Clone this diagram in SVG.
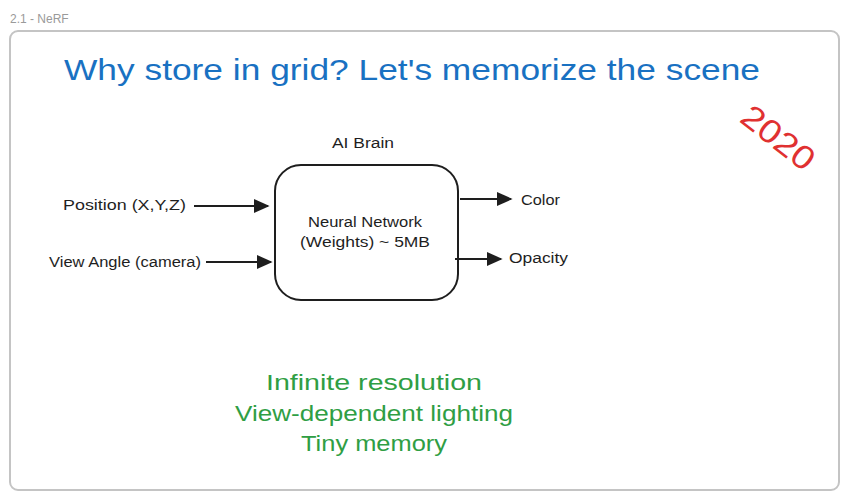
<svg xmlns="http://www.w3.org/2000/svg" width="849" height="500" viewBox="0 0 849 500">
<style>
.lbl{font-family:"Liberation Sans","DejaVu Sans",sans-serif;fill:#1e1e1e;font-size:14px}
.ctr{text-anchor:middle}
.conn{stroke:#1e1e1e;stroke-width:2;fill:none}
</style>
<defs>
<marker id="ah" viewBox="0 0 10 10" refX="9" refY="5" markerWidth="8" markerHeight="8" markerUnits="strokeWidth" orient="auto">
<path d="M0,0.5 L10,5 L0,9.5 Z" fill="#1e1e1e"/>
</marker>
</defs>
<rect width="849" height="500" fill="#ffffff"/>
<text x="10" y="23" font-family="Liberation Sans,sans-serif" font-size="12" fill="#9a9a9a">2.1 - NeRF</text>
<rect x="10" y="31" width="829" height="459" rx="8" fill="#ffffff" stroke="#c4c4c4" stroke-width="2"/>
<text x="64" y="80" font-family="Liberation Sans,sans-serif" font-size="30" fill="#1971c2" textLength="696" lengthAdjust="spacingAndGlyphs">Why store in grid? Let's memorize the scene</text>
<text x="778" y="149" font-family="Liberation Sans,sans-serif" font-size="33" fill="#e03131" text-anchor="middle" textLength="84" lengthAdjust="spacingAndGlyphs" transform="rotate(38 778 138)">2020</text>
<g id="ai-brain-label"><text class="lbl ctr" x="363" y="148" textLength="62" lengthAdjust="spacingAndGlyphs">AI Brain</text></g>
<g id="nn">
<rect x="275" y="165" width="183" height="135" rx="26" fill="#ffffff" stroke="#1e1e1e" stroke-width="2"/>
<text class="lbl ctr" x="365" y="227" textLength="114" lengthAdjust="spacingAndGlyphs">Neural Network</text>
<text class="lbl ctr" x="365" y="247" textLength="130" lengthAdjust="spacingAndGlyphs">(Weights) ~ 5MB</text>
</g>
<g id="position"><text class="lbl" x="63" y="210" textLength="123" lengthAdjust="spacingAndGlyphs">Position (X,Y,Z)</text></g>
<g id="view-angle"><text class="lbl" x="49" y="267" textLength="152" lengthAdjust="spacingAndGlyphs">View Angle (camera)</text></g>
<g id="color"><text class="lbl" x="521" y="205" textLength="39" lengthAdjust="spacingAndGlyphs">Color</text></g>
<g id="opacity"><text class="lbl" x="509" y="263" textLength="59" lengthAdjust="spacingAndGlyphs">Opacity</text></g>
<g id="connectors">
<line class="conn" x1="194" y1="206" x2="268" y2="206" marker-end="url(#ah)"/>
<line class="conn" x1="206" y1="262" x2="271" y2="262" marker-end="url(#ah)"/>
<line class="conn" x1="460" y1="199" x2="511" y2="199" marker-end="url(#ah)"/>
<line class="conn" x1="455" y1="259" x2="501" y2="259" marker-end="url(#ah)"/>
</g>
<g id="benefits" font-family="Liberation Sans,sans-serif" font-size="22" fill="#2f9e44" text-anchor="middle">
<text x="374" y="390" textLength="216" lengthAdjust="spacingAndGlyphs">Infinite resolution</text>
<text x="374" y="421" textLength="278" lengthAdjust="spacingAndGlyphs">View-dependent lighting</text>
<text x="374" y="451" textLength="146" lengthAdjust="spacingAndGlyphs">Tiny memory</text>
</g>
</svg>
